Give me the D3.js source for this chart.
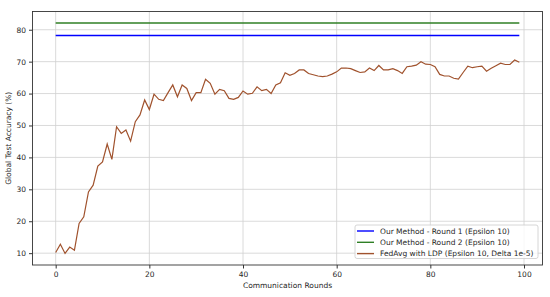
<!DOCTYPE html>
<meta charset="utf-8">
<style>
body { margin: 0; background: #fff; }
text { font-family: "DejaVu Sans", sans-serif; fill: #262626; }
.grid line { stroke: #d0d0d0; stroke-width: 0.8px; }
.axis path, .axis line { stroke: #333; }
</style>
<svg width="550" height="297"></svg>
<script src="https://d3js.org/d3.v7.min.js"></script>
<script>

// data
var rounds = d3.range(0, 100);
var round1Accuracy = 78.2;
var round2Accuracy = 82.1;
var fedAvgLdp = [
  10.2, 12.8, 9.9, 11.9, 10.9, 19.3, 21.4, 29.2, 31.3, 37.3,
  38.6, 44.2, 39.4, 49.6, 47.5, 48.6, 45.1, 51.2, 53.3, 58.0,
  55.0, 59.8, 58.2, 57.8, 60.3, 62.7, 59.0, 62.7, 61.6, 57.8,
  60.3, 60.3, 64.5, 63.2, 59.8, 61.3, 60.9, 58.5, 58.2, 58.8,
  60.8, 59.8, 60.1, 62.1, 60.9, 61.3, 60.0, 62.7, 63.4, 66.5,
  65.7, 66.3, 67.4, 67.4, 66.3, 65.9, 65.5, 65.3, 65.5, 66.1,
  66.8, 68.0, 68.0, 67.8, 67.2, 66.6, 66.8, 68.0, 67.2, 68.8,
  67.4, 67.4, 67.8, 67.2, 66.3, 68.4, 68.6, 68.9, 70.0, 69.2,
  69.1, 68.4, 66.0, 65.5, 65.5, 64.8, 64.5, 66.6, 68.6, 68.1,
  68.4, 68.6, 67.0, 67.9, 68.7, 69.5, 69.1, 69.1, 70.5, 69.8
];
var xTicks = [0, 20, 40, 60, 80, 100];
var yTicks = [10, 20, 30, 40, 50, 60, 70, 80];
var legendLabels = [
  "Our Method - Round 1 (Epsilon 10)",
  "Our Method - Round 2 (Epsilon 10)",
  "FedAvg with LDP (Epsilon 10, Delta 1e-5)"
];
var colors = ["#0000ff", "#2f7f25", "#a0522d"];

var svg = d3.select("svg");
var margin = {left: 32.5, right: 7.5, top: 11.5, bottom: 32};
var width = 550 - margin.left - margin.right,
    height = 297 - margin.top - margin.bottom;

// matplotlib-style 5% padding
var xMin = d3.min(rounds), xMax = d3.max(rounds);
var xPad = (xMax - xMin) * 0.05;
var yMin = d3.min(fedAvgLdp), yMax = Math.max(round2Accuracy, d3.max(fedAvgLdp));
var yPad = (yMax - yMin) * 0.05;

var x = d3.scaleLinear().domain([xMin - xPad, xMax + xPad]).range([0, width]);
var y = d3.scaleLinear().domain([yMin - yPad, yMax + yPad]).range([height, 0]);

var g = svg.append("g").attr("transform", "translate(" + margin.left + "," + margin.top + ")");

// grid
var grid = g.append("g").attr("class", "grid");
grid.selectAll(".gx").data(xTicks.filter(function(d) { return x(d) <= width; }))
  .enter().append("line")
    .attr("x1", function(d) { return x(d); }).attr("x2", function(d) { return x(d); })
    .attr("y1", 0).attr("y2", height);
grid.selectAll(".gy").data(yTicks)
  .enter().append("line")
    .attr("y1", function(d) { return y(d); }).attr("y2", function(d) { return y(d); })
    .attr("x1", 0).attr("x2", width);

// axes
var xAxis = g.append("g").attr("class", "axis")
    .attr("transform", "translate(0," + height + ")")
    .call(d3.axisBottom(x).tickValues(xTicks).tickSize(3.5).tickPadding(3));
var yAxis = g.append("g").attr("class", "axis")
    .call(d3.axisLeft(y).tickValues(yTicks).tickSize(3.5).tickPadding(3));
g.selectAll(".axis text").style("font-size", "7.5px").style("font-family", "DejaVu Sans").attr("fill", "#262626");
g.selectAll(".axis .domain").remove();

g.append("rect")
    .attr("width", width).attr("height", height)
    .attr("fill", "none").attr("stroke", "#333").attr("stroke-width", 0.9);

// lines
var line = d3.line()
    .x(function(d, i) { return x(rounds[i]); })
    .y(function(d) { return y(d); });

[round1Accuracy, round2Accuracy].forEach(function(v, k) {
  g.append("line")
    .attr("x1", x(xMin)).attr("x2", x(xMax))
    .attr("y1", y(v)).attr("y2", y(v))
    .attr("stroke", colors[k]).attr("stroke-width", 1.4);
});

g.append("path")
    .datum(fedAvgLdp)
    .attr("d", line)
    .attr("fill", "none")
    .attr("stroke", colors[2])
    .attr("stroke-width", 1.2);

// axis labels
svg.append("text")
    .attr("x", margin.left + width / 2).attr("y", 288)
    .attr("text-anchor", "middle")
    .style("font-size", "7.5px")
    .text("Communication Rounds");
svg.append("text")
    .attr("transform", "translate(11," + (margin.top + height / 2) + ") rotate(-90)")
    .attr("text-anchor", "middle")
    .style("font-size", "7.5px")
    .text("Global Test Accuracy (%)");

// legend
var legend = g.append("g").attr("transform", "translate(" + (355 - margin.left) + "," + (225 - margin.top) + ")");
legend.append("rect")
    .attr("width", 183).attr("height", 33.5).attr("rx", 2)
    .attr("fill", "#fff").attr("fill-opacity", 0.8)
    .attr("stroke", "#ccc").attr("stroke-width", 0.8);
legendLabels.forEach(function(lbl, i) {
  var ly = 6 + i * 11.3;
  legend.append("line")
    .attr("x1", 2).attr("x2", 19).attr("y1", ly).attr("y2", ly)
    .attr("stroke", colors[i]).attr("stroke-width", 1.4);
  legend.append("text")
    .attr("x", 25).attr("y", ly).attr("dy", "0.35em")
    .style("font-size", "7.5px")
    .text(lbl);
});

</script>
